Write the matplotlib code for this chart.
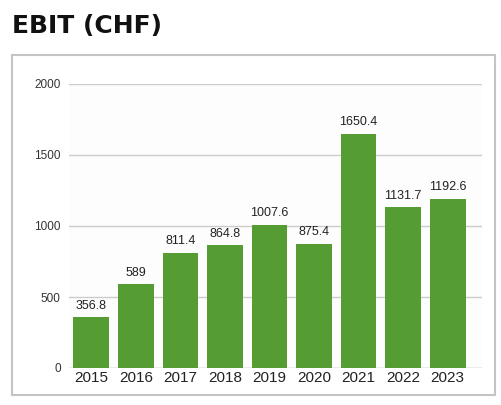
import matplotlib.pyplot as plt
from matplotlib.patches import Rectangle

years = ['2015', '2016', '2017', '2018', '2019', '2020', '2021', '2022', '2023']
ebit = [356.8, 589, 811.4, 864.8, 1007.6, 875.4, 1650.4, 1131.7, 1192.6]
labels = ['356.8', '589', '811.4', '864.8', '1007.6', '875.4', '1650.4', '1131.7', '1192.6']
yticks = [0, 500, 1000, 1500, 2000]

W, H = 502, 405
fig = plt.figure(figsize=(W / 100, H / 100), dpi=100)

# grey box around chart
fig.patches.append(Rectangle((12 / W, (H - 395) / H), 483 / W, 340 / H,
                             transform=fig.transFigure, fill=False,
                             edgecolor='#c4c4c4', linewidth=1.5))

fig.text(12 / W, (H - 33) / H, 'EBIT (CHF)', fontsize=18, fontweight='bold',
         family='DejaVu Sans', color='#111111', ha='left', va='baseline')

ax = fig.add_axes([69 / W, (H - 368) / H, (482 - 69) / W, (368 - 84) / H])
ax.set_facecolor('#fdfdfd')

x = list(range(len(years)))
bars = ax.bar(x, ebit, width=0.8, color='#559d32', zorder=3)
for xi, v, lab in zip(x, ebit, labels):
    ax.annotate(lab, (xi, v), xytext=(0, 4), textcoords='offset points',
                ha='center', va='bottom', fontsize=9, family='Liberation Sans',
                color='#222222')

ax.set_xlim(-0.5, 8.77)
ax.set_ylim(0, 2000)
ax.set_yticks(yticks)
ax.set_yticklabels([str(t) for t in yticks], family='Liberation Sans', fontsize=8.5, color='#333333')
ax.set_xticks(x)
ax.set_xticklabels(years, family='Liberation Sans', fontsize=11, color='#222222')
ax.tick_params(axis='both', length=0)
ax.tick_params(axis='y', pad=6)
ax.tick_params(axis='x', pad=2)
ax.grid(axis='y', color='#cccccc', linewidth=1, zorder=0)
ax.set_axisbelow(True)
for s in ax.spines.values():
    s.set_visible(False)
ax.axhline(0, color='#cccccc', linewidth=1, zorder=1)

fig.savefig('out.png', dpi=100)
